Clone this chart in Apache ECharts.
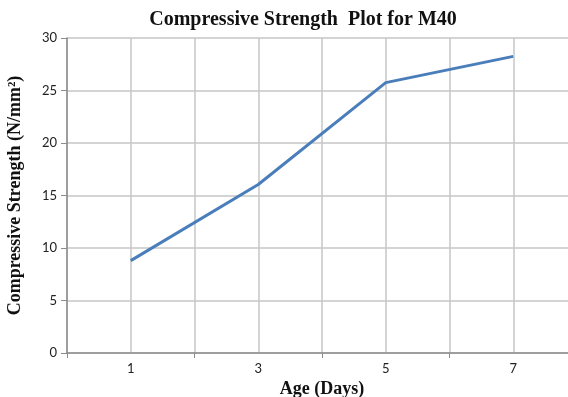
<!DOCTYPE html>
<html><head><meta charset="utf-8">
<script src="https://cdn.jsdelivr.net/npm/echarts@6/dist/echarts.min.js"></script>
<style>html,body{margin:0;padding:0;background:#fff}#c{width:568px;height:397px}</style>
</head><body><div id="c"></div>
<script>
const days = [1, 3, 5, 7];
const strength = [8.8, 16.05, 25.75, 28.25];
const xLabels = [1, 3, 5, 7];
const yTicks = [0, 5, 10, 15, 20, 25, 30];

const chart = echarts.init(document.getElementById('c'), null, {renderer: 'canvas'});
const serif = '"Liberation Serif", "Times New Roman", serif';
const lab = 'Lato, "Liberation Sans", sans-serif';
chart.setOption({
  animation: false,
  title: {
    text: 'Compressive Strength  Plot for M40',
    left: 298, top: 5, textAlign: 'center',
    textStyle: {fontFamily: serif, fontWeight: 'bold', fontSize: 20, color: '#111'}
  },
  grid: {left: 67, top: 38, right: -9, bottom: 44, containLabel: false, outerBoundsMode: 'none'},
  xAxis: {
    type: 'value', min: 0, max: 8, interval: 2,
    name: 'Age (Days)', nameLocation: 'middle', nameGap: 27,
    nameTextStyle: {fontFamily: serif, fontWeight: 'bold', fontSize: 18, color: '#111'},
    axisLine: {show: true, lineStyle: {color: '#8c8c8c', width: 1.5}},
    axisTick: {show: true, length: 5, lineStyle: {color: '#8c8c8c'}},
    minorTick: {show: false, splitNumber: 2},
    minorSplitLine: {show: true, lineStyle: {color: '#c6c6c6', width: 1.5}},
    axisLabel: {customValues: xLabels, fontFamily: lab, fontSize: 13, color: '#222', margin: 9},
    splitLine: {show: true, lineStyle: {color: '#c6c6c6', width: 1.5}}
  },
  yAxis: {
    type: 'value', min: 0, max: 30, interval: 5,
    name: 'Compressive Strength (N/mm²)', nameLocation: 'middle', nameGap: 43,
    nameTextStyle: {fontFamily: serif, fontWeight: 'bold', fontSize: 18, color: '#111'},
    axisLine: {show: true, lineStyle: {color: '#8c8c8c', width: 1.5}},
    axisTick: {show: true, length: 6, lineStyle: {color: '#8c8c8c'}},
    axisLabel: {customValues: yTicks, fontFamily: lab, fontSize: 13, color: '#222', margin: 10},
    splitLine: {show: true, lineStyle: {color: '#c6c6c6', width: 1.5}}
  },
  series: [{
    type: 'line',
    data: days.map((d, i) => [d, strength[i]]),
    showSymbol: false, symbol: 'none',
    lineStyle: {color: '#4a7ebb', width: 3}
  }]
});
</script></body></html>
